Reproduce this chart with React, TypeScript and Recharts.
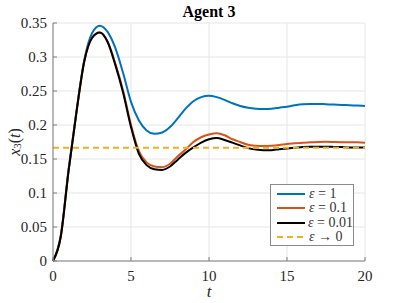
import { LineChart, Line, XAxis, YAxis, CartesianGrid, Legend } from 'recharts';

// time samples (t) and the three responses
const tValues = [
  0, 0.5, 1, 1.5, 2, 2.5, 3, 3.5, 4, 4.5, 5, 5.5, 6, 6.5, 7, 7.5, 8, 8.5, 9, 9.5, 10,
  10.5, 11, 11.5, 12, 12.5, 13, 13.5, 14, 14.5, 15, 15.5, 16, 16.5, 17, 17.5, 18, 18.5, 19, 19.5, 20,
];

const eps1 = [
  0, 0.038, 0.135, 0.22, 0.295, 0.335, 0.346, 0.337, 0.313, 0.276, 0.234, 0.207, 0.192, 0.187, 0.189, 0.197,
  0.21, 0.224, 0.235, 0.241, 0.243, 0.241, 0.237, 0.232, 0.228, 0.2255, 0.224, 0.2235, 0.224, 0.2255, 0.227,
  0.229, 0.2305, 0.231, 0.231, 0.2305, 0.23, 0.2295, 0.229, 0.2285, 0.228,
];

const eps01 = [
  0, 0.036, 0.133, 0.218, 0.293, 0.328, 0.336, 0.323, 0.29, 0.25, 0.2, 0.162, 0.145, 0.139, 0.138, 0.143,
  0.154, 0.164, 0.175, 0.182, 0.186, 0.188, 0.185, 0.179, 0.175, 0.171, 0.1695, 0.169, 0.1695, 0.1705, 0.172,
  0.173, 0.174, 0.1745, 0.175, 0.1752, 0.175, 0.1748, 0.1745, 0.1745, 0.174,
];

const eps001 = [
  0, 0.036, 0.133, 0.218, 0.293, 0.328, 0.336, 0.322, 0.288, 0.247, 0.197, 0.158, 0.141, 0.135, 0.134, 0.139,
  0.149, 0.159, 0.167, 0.174, 0.179, 0.181, 0.178, 0.174, 0.17, 0.166, 0.164, 0.163, 0.163, 0.1645, 0.1655,
  0.1665, 0.1675, 0.168, 0.168, 0.168, 0.1678, 0.1675, 0.167, 0.167, 0.167,
];

// limit value for eps -> 0
const epsLimit = 0.1667;

const xTicks = [0, 5, 10, 15, 20];
const yTicks = [0, 0.05, 0.1, 0.15, 0.2, 0.25, 0.3, 0.35];

const seriesNames = ['ε = 1', 'ε = 0.1', 'ε = 0.01', 'ε → 0'];
const seriesColors = ['#0072BD', '#D95319', '#000000', '#EDB120'];

const data = tValues.map((t, i) => ({
  t,
  e1: eps1[i],
  e01: eps01[i],
  e001: eps001[i],
  e0: epsLimit,
}));

const serif = 'Liberation Serif';
const axisColor = '#7f7f7f';
const textColor = '#262626';

function XTick({ x, y, payload }: any) {
  return (
    <text x={x} y={y} dy="0.71em" textAnchor="middle" style={{ fontFamily: serif }} fontSize={15} fill={textColor}>
      {payload.value}
    </text>
  );
}

function YTick({ x, y, payload }: any) {
  return (
    <text x={x} y={y} dy="0.355em" textAnchor="end" style={{ fontFamily: serif }} fontSize={15} fill={textColor}>
      {payload.value}
    </text>
  );
}

function YLabel({ viewBox }: any) {
  const cx = viewBox.x + 14;
  const cy = viewBox.y + viewBox.height / 2;
  return (
    <text
      x={cx}
      y={cy}
      transform={`rotate(-90, ${cx}, ${cy})`}
      textAnchor="middle"
      dominantBaseline="central"
      style={{ fontFamily: serif }}
      fontSize={16}
      fill={textColor}
    >
      <tspan fontStyle="italic">x</tspan>
      <tspan fontSize={11} dy={3}>3</tspan>
      <tspan dy={-3}>(</tspan>
      <tspan fontStyle="italic">t</tspan>
      <tspan>)</tspan>
    </text>
  );
}

function XLabel({ viewBox }: any) {
  const cx = viewBox.x + viewBox.width / 2;
  return (
    <text x={cx} y={297} textAnchor="middle" style={{ fontFamily: serif }} fontSize={17} fontStyle="italic" fill={textColor}>
      t
    </text>
  );
}

function LegendBox() {
  return (
    <div
      style={{
        border: '1px solid #8a8a8a',
        background: '#fff',
        padding: '2px 0 2px 6px',
        fontFamily: serif,
        fontSize: 14,
        color: '#333',
        boxSizing: 'border-box',
        width: 84,
        height: 62,
      }}
    >
      {seriesNames.map((name, i) => (
        <div key={name} style={{ display: 'flex', alignItems: 'center', height: 14.3 }}>
          <svg width={29} height={6} style={{ marginRight: 3 }}>
            <line
              x1={0}
              y1={3}
              x2={28}
              y2={3}
              stroke={seriesColors[i]}
              strokeWidth={2}
              strokeDasharray={i === 3 ? '6 4' : undefined}
            />
          </svg>
          <span style={{ whiteSpace: 'nowrap' }}>
            <i>ε</i>
            {name.slice(1)}
          </span>
        </div>
      ))}
    </div>
  );
}

export default function App() {
  return (
    <div style={{ position: 'absolute', left: 0, top: 0, width: 403, height: 303, background: '#fff' }}>
      <div
        style={{
          position: 'absolute',
          left: 0,
          top: 3,
          width: 418,
          textAlign: 'center',
          fontFamily: serif,
          fontWeight: 'bold',
          fontSize: 16,
          lineHeight: '17px',
          color: '#000',
        }}
      >
        Agent 3
      </div>
      <LineChart width={403} height={303} data={data} margin={{ top: 23, right: 38, bottom: 0, left: 0 }}>
        <CartesianGrid stroke="#e6e6e6" strokeWidth={1} />
        <XAxis
          dataKey="t"
          type="number"
          domain={[0, 20]}
          ticks={xTicks}
          height={42}
          tickSize={-4}
          tickMargin={13}
          tick={<XTick />}
          stroke={axisColor}
          label={<XLabel />}
        />
        <XAxis
          xAxisId="top"
          dataKey="t"
          type="number"
          orientation="top"
          domain={[0, 20]}
          ticks={xTicks}
          height={0}
          tickSize={-4}
          tickFormatter={() => ''}
          stroke={axisColor}
        />
        <YAxis
          type="number"
          domain={[0, 0.35]}
          ticks={yTicks}
          width={53}
          tickSize={-4}
          tickMargin={10}
          tick={<YTick />}
          stroke={axisColor}
          label={<YLabel />}
        />
        <YAxis
          yAxisId="right"
          orientation="right"
          type="number"
          domain={[0, 0.35]}
          ticks={yTicks}
          width={0}
          tickSize={-4}
          tickFormatter={() => ''}
          stroke={axisColor}
        />
        <Line type="monotone" dataKey="e1" name={seriesNames[0]} stroke={seriesColors[0]} strokeWidth={2} dot={false} isAnimationActive={false} />
        <Line type="monotone" dataKey="e01" name={seriesNames[1]} stroke={seriesColors[1]} strokeWidth={2} dot={false} isAnimationActive={false} />
        <Line type="monotone" dataKey="e001" name={seriesNames[2]} stroke={seriesColors[2]} strokeWidth={2} dot={false} isAnimationActive={false} />
        <Line
          type="linear"
          dataKey="e0"
          name={seriesNames[3]}
          stroke={seriesColors[3]}
          strokeWidth={2}
          strokeDasharray="6 4"
          dot={false}
          isAnimationActive={false}
        />
        <Legend
          layout="horizontal"
          verticalAlign="middle"
          align="center"
          content={<LegendBox />}
          wrapperStyle={{ left: 270, top: 184, width: 84, height: 62 }}
        />
      </LineChart>
    </div>
  );
}
